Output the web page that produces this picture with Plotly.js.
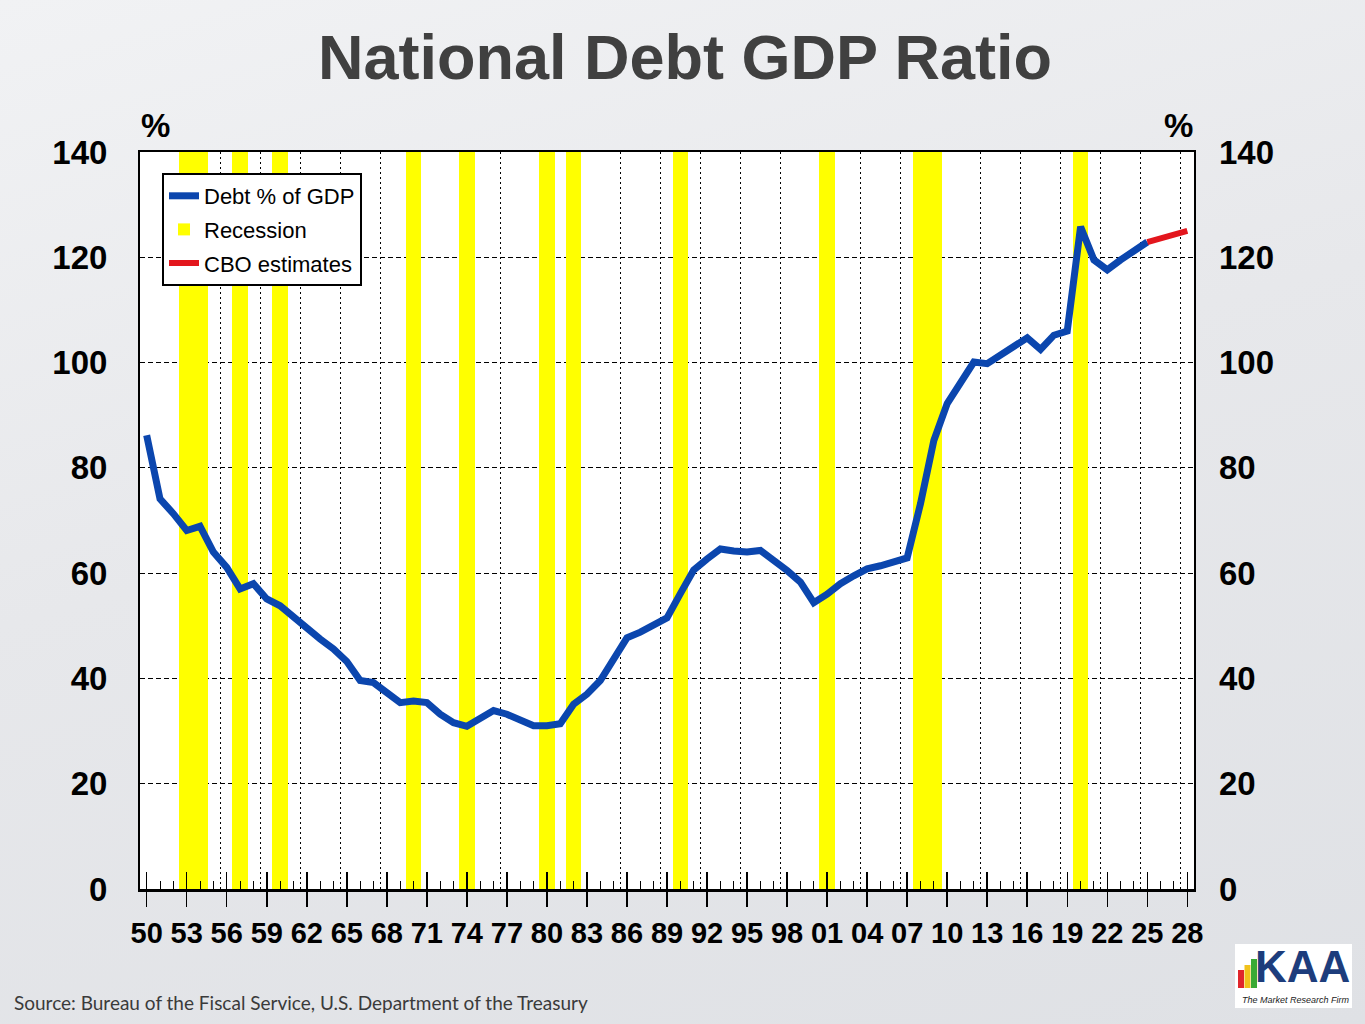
<!DOCTYPE html>
<html>
<head>
<meta charset="utf-8">
<script src="https://cdn.plot.ly/plotly-3.0.1.min.js"></script>
<style>
  html, body { margin: 0; padding: 0; }
  body {
    width: 1365px; height: 1024px; overflow: hidden;
    background: linear-gradient(165deg, #f1f2f4 0%, #e7e8eb 45%, #dfe1e5 100%);
  }
  #chart { width: 1365px; height: 1024px; }
</style>
</head>
<body>
<div id="chart"></div>
<script>
// ---- data ----
const DEBT_YEARS = [1950,1951,1952,1953,1954,1955,1956,1957,1958,1959,
  1960,1961,1962,1963,1964,1965,1966,1967,1968,1969,
  1970,1971,1972,1973,1974,1975,1976,1977,1978,1979,
  1980,1981,1982,1983,1984,1985,1986,1987,1988,1989,
  1990,1991,1992,1993,1994,1995,1996,1997,1998,1999,
  2000,2001,2002,2003,2004,2005,2006,2007,2008,2009,
  2010,2011,2012,2013,2014,2015,2016,2017,2018,2019,
  2020,2021,2022,2023,2024,2025];
const DEBT_PCT = [86.2,74.1,71.3,68.1,68.9,64.0,61.1,57.0,58.0,55.1,
  53.8,51.6,49.3,47.5,45.6,43.2,39.6,39.2,37.3,35.4,
  35.7,35.4,33.2,31.6,30.9,32.3,33.9,33.2,32.0,31.0,
  31.0,31.4,35.1,37.0,39.6,43.4,47.7,48.8,50.0,51.5,
  56.1,60.6,62.7,64.6,64.2,64.0,64.3,62.5,60.5,58.3,
  54.4,56.0,58.0,59.5,60.8,61.4,62.1,62.9,73.2,85.2,
  92.2,96.3,100.1,99.8,101.4,103.0,104.7,102.5,105.2,106.0,
  125.8,119.5,117.6,119.5,121.4,122.9];
const CBO_YEARS = [2025,2026,2027,2028];
const CBO_PCT = [122.9,123.6,124.1,125.0];
const RECESSION_YEARS = [1953,1954,1957,1960,1970,1974,1980,1982,1990,2001,2008,2009,2020];
const RECESSION_TOP = [140,140,140,140,140,140,140,140,140,140,140,140,140];
const TICK_YEARS = [1950,1953,1956,1959,1962,1965,1968,1971,1974,1977,1980,1983,1986,1989,
  1992,1995,1998,2001,2004,2007,2010,2013,2016,2019,2022,2025,2028];
const TICK_LABELS = ["50","53","56","59","62","65","68","71","74","77","80","83","86","89",
  "92","95","98","01","04","07","10","13","16","19","22","25","28"];
const Y_TICKS = [0,20,40,60,80,100,120,140];

// ---- layout helpers (pixel -> paper) ----
const W = 1365, H = 1024, ML = 140, MR = 171, MT = 152, MB = 135;
const PW = W - ML - MR, PH = H - MT - MB;
const px = x => (x - ML) / PW;
const py = y => (H - MB - y) / PH;

const FONT = 'Liberation Sans, Arial, sans-serif';

const traces = [
  {
    type: 'scatter', mode: 'lines', name: 'Debt % of GDP',
    x: DEBT_YEARS, y: DEBT_PCT,
    line: { color: '#0b46ae', width: 7 },
    legendgroup: 'a', hoverinfo: 'x+y'
  },
  {
    type: 'bar', name: 'Recession',
    x: RECESSION_YEARS, y: RECESSION_TOP, width: 1.15,
    marker: { color: '#ffff00', line: { width: 0 } },
    legendgroup: 'b', hoverinfo: 'x'
  },
  {
    type: 'scatter', mode: 'lines', name: 'CBO estimates',
    x: CBO_YEARS, y: CBO_PCT,
    line: { color: '#e3161d', width: 6 },
    legendgroup: 'c', hoverinfo: 'x+y'
  },
  // invisible carriers so the helper axes (crossing ticks, gridlines, right labels) are drawn
  { type: 'scatter', mode: 'markers', x: [DEBT_YEARS[0]], y: [DEBT_PCT[0]], xaxis: 'x2', yaxis: 'y',
    marker: { opacity: 0 }, showlegend: false, hoverinfo: 'skip' },
  { type: 'scatter', mode: 'markers', x: [DEBT_YEARS[0]], y: [DEBT_PCT[0]], xaxis: 'x3', yaxis: 'y',
    marker: { opacity: 0 }, showlegend: false, hoverinfo: 'skip' },
  { type: 'scatter', mode: 'markers', x: [DEBT_YEARS[0]], y: [DEBT_PCT[0]], xaxis: 'x', yaxis: 'y2',
    marker: { opacity: 0 }, showlegend: false, hoverinfo: 'skip' }
];

const layout = {
  width: W, height: H,
  margin: { l: ML, r: MR, t: MT, b: MB, pad: 0 },
  paper_bgcolor: 'rgba(0,0,0,0)',
  plot_bgcolor: '#ffffff',
  showlegend: true,
  bargap: 0,
  title: {
    text: '<b>National Debt GDP Ratio</b>',
    font: { family: FONT, size: 63, color: '#404040' },
    x: 685 / W, xanchor: 'center', xref: 'container',
    y: 1 - 57 / H, yanchor: 'middle', yref: 'container'
  },
  legend: {
    x: px(162), y: py(173), xanchor: 'left', yanchor: 'top',
    bgcolor: '#ffffff', bordercolor: '#000000', borderwidth: 2,
    font: { family: FONT, size: 22, color: '#000000' },
    tracegroupgap: 2, traceorder: 'grouped', itemwidth: 30
  },
  xaxis: {
    range: [1949.5, 2028.5],
    tickmode: 'array', tickvals: TICK_YEARS, ticktext: TICK_LABELS,
    ticks: 'outside', ticklen: 15, tickwidth: 1.5, tickcolor: '#000',
    minor: { ticks: 'inside', tickmode: 'linear', tick0: 1950, dtick: 1, ticklen: 8, tickwidth: 1, tickcolor: '#000', showgrid: false },
    tickfont: { family: FONT, size: 29, color: '#000', weight: 'bold' },
    ticklabelstandoff: 2,
    showgrid: false, zeroline: false,
    showline: true, linecolor: '#000', linewidth: 2.5, mirror: true
  },
  xaxis2: {
    overlaying: 'x', anchor: 'y', side: 'bottom', matches: 'x',
    tickmode: 'array', tickvals: TICK_YEARS,
    ticks: 'inside', ticklen: 17, tickwidth: 1.5, tickcolor: '#000',
    showticklabels: false, showgrid: false, zeroline: false, showline: false
  },
  xaxis3: {
    overlaying: 'x', anchor: 'y', side: 'bottom', matches: 'x',
    tickmode: 'linear', tick0: 1949.5, dtick: 3,
    ticks: '', showticklabels: false,
    showgrid: true, gridcolor: '#000000', gridwidth: 1, griddash: '2px,3px',
    zeroline: false, showline: false
  },
  yaxis: {
    range: [0, 140], tickmode: 'array', tickvals: Y_TICKS,
    ticks: '', ticklabelstandoff: 24,
    tickfont: { family: FONT, size: 33, color: '#000', weight: 'bold' },
    showgrid: true, gridcolor: '#000000', gridwidth: 1, griddash: '5px,3px',
    zeroline: false,
    showline: true, linecolor: '#000', linewidth: 2, mirror: true
  },
  yaxis2: {
    overlaying: 'y', side: 'right', anchor: 'x', matches: 'y',
    range: [0, 140], tickmode: 'array', tickvals: Y_TICKS,
    ticks: '', ticklabelstandoff: 24,
    tickfont: { family: FONT, size: 33, color: '#000', weight: 'bold' },
    showgrid: false, zeroline: false, showline: false
  },
  annotations: [
    { text: '<b>%</b>', xref: 'paper', yref: 'paper', x: px(155), y: py(125),
      xanchor: 'center', yanchor: 'middle', showarrow: false,
      font: { family: FONT, size: 33, color: '#000' } },
    { text: '<b>%</b>', xref: 'paper', yref: 'paper', x: px(1178), y: py(125),
      xanchor: 'center', yanchor: 'middle', showarrow: false,
      font: { family: FONT, size: 33, color: '#000' } },
    { text: 'Source: Bureau of the Fiscal Service, U.S. Department of the Treasury',
      xref: 'paper', yref: 'paper', x: px(12), y: py(1002),
      xanchor: 'left', yanchor: 'middle', showarrow: false,
      font: { family: 'Lato, sans-serif', size: 19, color: '#3a3a3a' } },
    { text: '<b>KAA</b>', xref: 'paper', yref: 'paper', x: px(1302), y: py(966),
      xanchor: 'center', yanchor: 'middle', showarrow: false,
      font: { family: 'Liberation Sans Narrow, Arial Narrow, Liberation Sans, sans-serif', size: 44, color: '#1d3d7c' } },
    { text: '<i>The Market Research Firm</i>', xref: 'paper', yref: 'paper', x: px(1296), y: py(1000),
      xanchor: 'center', yanchor: 'middle', showarrow: false,
      font: { family: FONT, size: 9, color: '#222' } }
  ],
  shapes: [
    { type: 'rect', xref: 'paper', yref: 'paper', x0: px(1235), x1: px(1352), y0: py(1008), y1: py(944),
      fillcolor: '#ffffff', line: { width: 0 }, layer: 'below' },
    { type: 'rect', xref: 'paper', yref: 'paper', x0: px(1238), x1: px(1244), y0: py(988), y1: py(970),
      fillcolor: '#e0262b', line: { width: 0 } },
    { type: 'rect', xref: 'paper', yref: 'paper', x0: px(1244.5), x1: px(1250.5), y0: py(988), y1: py(965),
      fillcolor: '#f1c21b', line: { width: 0 } },
    { type: 'rect', xref: 'paper', yref: 'paper', x0: px(1251), x1: px(1257), y0: py(988), y1: py(959),
      fillcolor: '#3aaa35', line: { width: 0 } }
  ]
};

Plotly.newPlot('chart', traces, layout, { displayModeBar: false, staticPlot: true });
</script>
</body>
</html>
